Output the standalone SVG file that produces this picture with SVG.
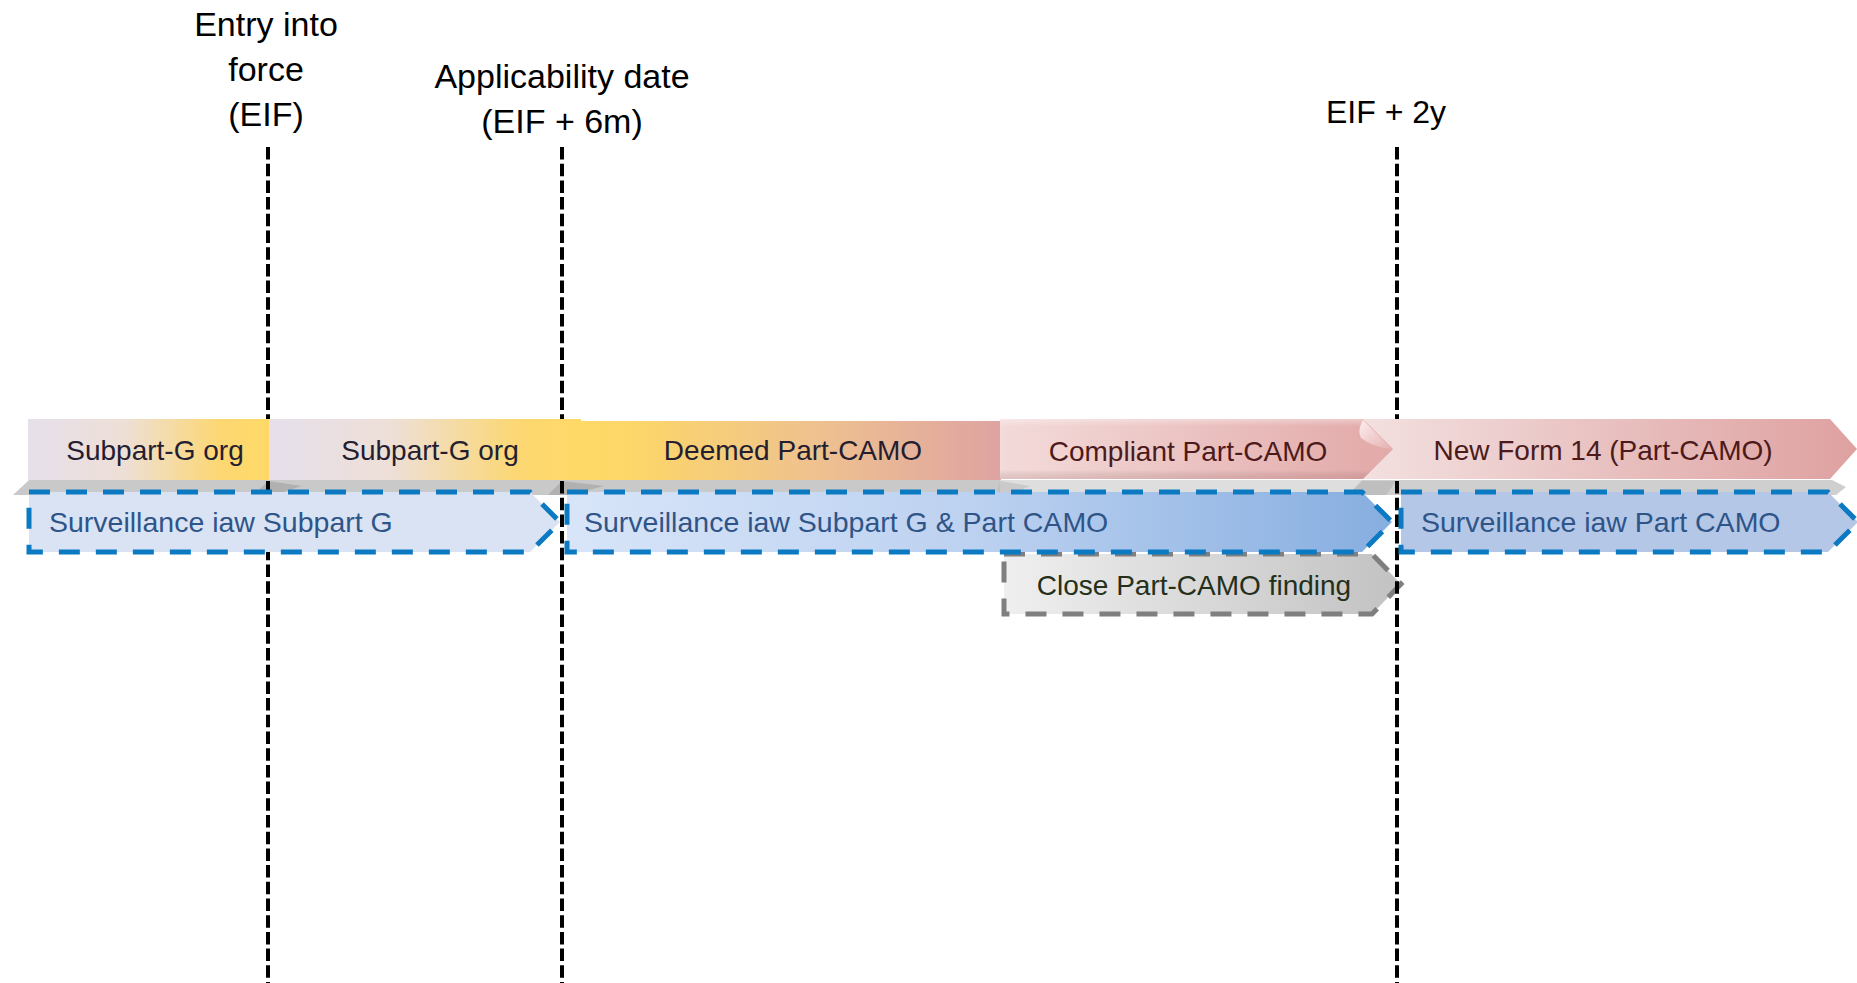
<svg xmlns="http://www.w3.org/2000/svg" width="1857" height="983" viewBox="0 0 1857 983">
  <defs>
    <linearGradient id="gSub" x1="0" y1="0" x2="1" y2="0">
      <stop offset="0" stop-color="#e6e0ec"/>
      <stop offset="0.4" stop-color="#eedfd6"/>
      <stop offset="0.8" stop-color="#fcd772"/>
      <stop offset="1" stop-color="#ffd966"/>
    </linearGradient>
    <linearGradient id="gDeemed" x1="0" y1="0" x2="1" y2="0">
      <stop offset="0" stop-color="#ffd966"/>
      <stop offset="0.12" stop-color="#fdd768"/>
      <stop offset="0.55" stop-color="#efc28e"/>
      <stop offset="1" stop-color="#dea3a2"/>
    </linearGradient>
    <linearGradient id="gComp" x1="0" y1="0" x2="1" y2="0">
      <stop offset="0" stop-color="#f3dbda"/>
      <stop offset="1" stop-color="#e2a9a8"/>
    </linearGradient>
    <linearGradient id="gCompV" x1="0" y1="0" x2="0" y2="1">
      <stop offset="0" stop-color="#ffffff" stop-opacity="0.35"/>
      <stop offset="0.12" stop-color="#ffffff" stop-opacity="0"/>
      <stop offset="0.85" stop-color="#000000" stop-opacity="0"/>
      <stop offset="1" stop-color="#8a4a4a" stop-opacity="0.18"/>
    </linearGradient>
    <linearGradient id="gCurl" x1="0" y1="0" x2="1" y2="1">
      <stop offset="0" stop-color="#fdeeee"/>
      <stop offset="1" stop-color="#e5b0b0"/>
    </linearGradient>
    <linearGradient id="gNew" x1="0" y1="0" x2="1" y2="0">
      <stop offset="0" stop-color="#f3e0e0"/>
      <stop offset="1" stop-color="#dea1a0"/>
    </linearGradient>
    <linearGradient id="gSurv2" x1="0" y1="0" x2="1" y2="0">
      <stop offset="0" stop-color="#d8e5f9"/>
      <stop offset="0.5" stop-color="#bcd1f0"/>
      <stop offset="1" stop-color="#86aee0"/>
    </linearGradient>
    <linearGradient id="gClose" x1="0" y1="0" x2="1" y2="0">
      <stop offset="0" stop-color="#efefef"/>
      <stop offset="1" stop-color="#c2c2c2"/>
    </linearGradient>
    <style>
      .lbl { font-family: "Liberation Sans", Arial, sans-serif; }
      .head { font-size: 34px; fill: #000000; text-anchor: middle; }
      .bar { font-size: 28px; text-anchor: middle; }
      .dark { fill: #241e30; }
      .red { fill: #4c1a1a; }
      .surv { font-size: 28.5px; fill: #2f5588; }
      .close { font-size: 28px; fill: #24301a; text-anchor: middle; }
      .vline { stroke: #000000; stroke-width: 4; stroke-dasharray: 12.5 4.2; fill: none; }
      .bdash { stroke: #0b7ac2; stroke-width: 5; stroke-dasharray: 21 16; }
      .gdash { stroke: #7f7f7f; stroke-width: 5; stroke-dasharray: 21 16; }
    </style>
  </defs>
  <rect width="1857" height="983" fill="#ffffff"/>

  <!-- reflection strip under top bars -->
  <g id="strip">
    <polygon points="13,495 29,480 1000,480 1000,495" fill="#c9c9c9"/>
    <polygon points="1000,480 1362,480 1362,495 1000,495" fill="#dedede"/>
    <polygon points="1362,480 1832,480 1846,487 1836,495 1348,495" fill="#cfcfcf"/>
    <polygon points="254,495 268,481 302,486 274,495" fill="#a8a8a8" opacity="0.75"/>
    <polygon points="548,495 562,481 604,486 570,495" fill="#a8a8a8" opacity="0.75"/>
    <polygon points="996,495 1000,481 1030,486 1010,495" fill="#b5b5b5" opacity="0.5"/>
    <polygon points="1348,495 1362,481 1396,481 1386,495" fill="#b8b8b8" opacity="0.7"/>
  </g>

  <!-- close finding box (behind marker line) -->
  <g id="close-finding">
    <polygon points="1004,554 1372,554 1401,584 1372,614 1004,614" fill="url(#gClose)" class="gdash"/>
    <text class="lbl close" x="1194" y="595">Close Part-CAMO finding</text>
  </g>

  <!-- timeline marker lines -->
  <g id="connectors">
    <line class="vline" x1="268" y1="147" x2="268" y2="983"/>
    <line class="vline" x1="562" y1="147" x2="562" y2="983"/>
    <line class="vline" x1="1397" y1="147" x2="1397" y2="983"/>
  </g>

  <!-- milestone labels -->
  <g id="milestone-eif">
    <text class="lbl head" x="266" y="36">Entry into</text>
    <text class="lbl head" x="266" y="81">force</text>
    <text class="lbl head" x="266" y="126">(EIF)</text>
  </g>
  <g id="milestone-applicability">
    <text class="lbl head" x="562" y="88">Applicability date</text>
    <text class="lbl head" x="562" y="133">(EIF + 6m)</text>
  </g>
  <g id="milestone-eif2y">
    <text class="lbl head" x="1386" y="123" style="font-size:32px">EIF + 2y</text>
  </g>

  <!-- top row: organisation status -->
  <g id="subpart-g-org-1">
    <rect x="28" y="419" width="241" height="61" fill="url(#gSub)"/>
    <text class="lbl bar dark" x="155" y="460">Subpart-G org</text>
  </g>
  <g id="subpart-g-org-2">
    <rect x="269" y="419" width="312" height="61" fill="url(#gSub)"/>
    <text class="lbl bar dark" x="430" y="460">Subpart-G org</text>
  </g>
  <g id="deemed-part-camo">
    <rect x="578" y="421" width="423" height="59" fill="url(#gDeemed)"/>
    <text class="lbl bar dark" x="793" y="460">Deemed Part-CAMO</text>
  </g>
  <g id="new-form-14">
    <polygon points="1362,419 1830,419 1857,449 1830,479 1362,479" fill="url(#gNew)"/>
    <text class="lbl bar red" x="1603" y="460">New Form 14 (Part-CAMO)</text>
  </g>
  <g id="compliant-part-camo">
    <polygon points="1000,419 1363,419 1393,449 1363,479 1000,479" fill="url(#gComp)"/>
    <polygon points="1000,419 1363,419 1393,449 1363,479 1000,479" fill="url(#gCompV)"/>
    <path d="M1363,420 L1392,449 Q1372,447 1361,438 Q1357,430 1363,420 Z" fill="url(#gCurl)"/>
    <text class="lbl bar red" x="1188" y="461">Compliant Part-CAMO</text>
  </g>

  <!-- second row: surveillance -->
  <g id="surveillance-subpart-g">
    <polygon points="29,492 530,492 560,522 530,552 29,552" fill="#dae3f3" class="bdash"/>
    <text class="lbl surv" x="49" y="532">Surveillance iaw Subpart G</text>
  </g>
  <g id="surveillance-subpart-g-part-camo">
    <polygon points="567,492 1362,492 1392,522 1362,552 567,552" fill="url(#gSurv2)" class="bdash"/>
    <text class="lbl surv" x="584" y="532">Surveillance iaw Subpart G &amp; Part CAMO</text>
  </g>
  <g id="surveillance-part-camo">
    <polygon points="1401,492 1828,492 1858,522 1828,552 1401,552" fill="#b4c7e7" class="bdash"/>
    <text class="lbl surv" x="1421" y="532">Surveillance iaw Part CAMO</text>
  </g>
</svg>
